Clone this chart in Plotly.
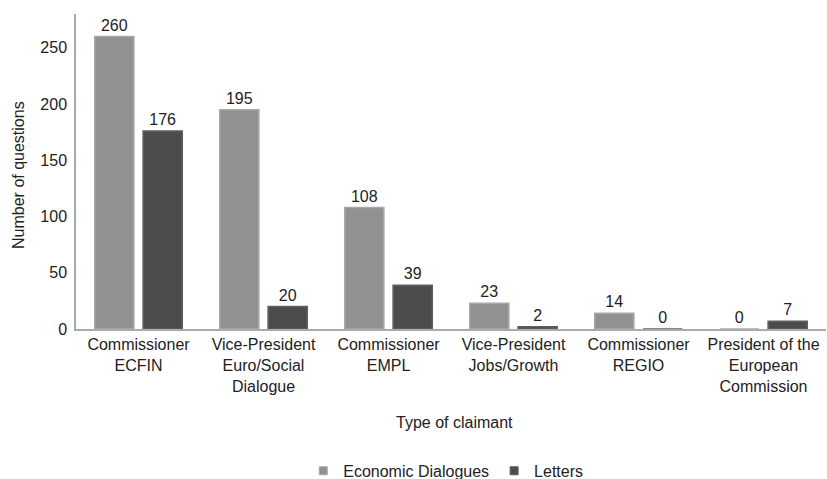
import plotly.graph_objects as go

categories = [
    "Commissioner<br>ECFIN",
    "Vice-President<br>Euro/Social<br>Dialogue",
    "Commissioner<br>EMPL",
    "Vice-President<br>Jobs/Growth",
    "Commissioner<br>REGIO",
    "President of the<br>European<br>Commission",
]
economic_dialogues = [260, 195, 108, 23, 14, 0]
letters = [176, 20, 39, 2, 0, 7]
y_ticks = [0, 50, 100, 150, 200, 250]

FONT = "Liberation Sans, Arial, Helvetica, sans-serif"
TEXT = "#222222"
LIGHT, LIGHT_EDGE = "#919191", "#a9a9a9"
DARK, DARK_EDGE = "#4c4c4c", "#5f5f5f"

fig = go.Figure()
for name, values, fill, edge in [
    ("Economic Dialogues", economic_dialogues, LIGHT, LIGHT_EDGE),
    ("Letters", letters, DARK, DARK_EDGE),
]:
    fig.add_trace(go.Bar(
        name=name,
        x=categories,
        y=values,
        text=values,
        textposition="outside",
        textfont=dict(size=16, color=TEXT, family=FONT),
        marker=dict(color=fill, line=dict(color=edge, width=1.5)),
        cliponaxis=False,
        showlegend=False,
    ))
    # small square key for the legend
    fig.add_trace(go.Scatter(
        name=name,
        x=[None], y=[None],
        mode="markers",
        marker=dict(symbol="square", size=8, color=fill,
                    line=dict(color=edge, width=1)),
        showlegend=True,
    ))

fig.update_layout(
    width=827,
    height=479,
    margin=dict(l=76, r=1, t=14, b=150),
    barmode="group",
    bargap=0.226,
    bargroupgap=0.19,
    plot_bgcolor="white",
    paper_bgcolor="white",
    font=dict(family=FONT, size=16, color=TEXT),
    showlegend=True,
    legend=dict(
        orientation="h",
        x=0.493, xanchor="center",
        yref="container",
        y=0.017, yanchor="middle",
        font=dict(size=16, color=TEXT),
        itemwidth=30,
        traceorder="normal",
    ),
    xaxis=dict(
        showline=True, linecolor="#aaaaaa", linewidth=1.5,
        ticks="", showgrid=False,
        tickfont=dict(size=16, color=TEXT),
    ),
    yaxis=dict(
        range=[0, 280],
        tickvals=y_ticks,
        showline=True, linecolor="#aaaaaa", linewidth=1.5,
        ticks="", showgrid=False, zeroline=False,
        tickfont=dict(size=16, color=TEXT),
        ticklabelstandoff=4,
    ),
    annotations=[
        dict(text="Type of claimant", xref="paper", yref="paper",
             x=0.504, y=-0.298, xanchor="center", yanchor="middle",
             showarrow=False, font=dict(size=16, color=TEXT)),
        dict(text="Number of questions", xref="paper", yref="paper",
             x=-0.076, y=0.489, xanchor="center", yanchor="middle",
             textangle=-90, showarrow=False, font=dict(size=16, color=TEXT)),
    ],
)

fig.write_html("out.html")
